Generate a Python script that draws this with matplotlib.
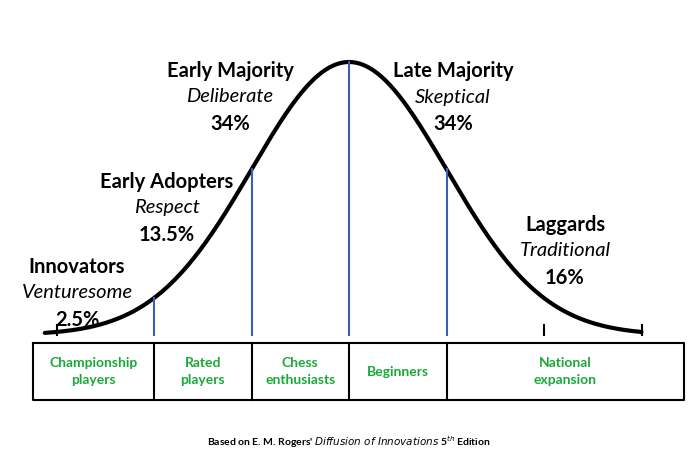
import numpy as np
import matplotlib.pyplot as plt

# groups along the curve
groups = ["Innovators", "Early Adopters", "Early Majority", "Late Majority", "Laggards"]
traits = ["Venturesome", "Respect", "Deliberate", "Skeptical", "Traditional"]
shares = ["2.5%", "13.5%", "34%", "34%", "16%"]
segments = ["Championship\nplayers", "Rated\nplayers", "Chess\nenthusiasts", "Beginners", "National\nexpansion"]
# boundaries in standard deviations from the mean
cuts = [-2, -1, 0, 1]
ticks = [-3, 2, 3]

# layout in pixels
mu, sd, base, peak = 349, 97.5, 335, 62
W, H = 700, 466

fig = plt.figure(figsize=(7, 4.66), dpi=100)
ax = fig.add_axes([0, 0, 1, 1])
ax.set_xlim(0, W)
ax.set_ylim(H, 0)
ax.axis("off")

def bell(z):
    return base - (base - peak) * np.exp(-0.5 * z ** 2)

z = np.linspace(-3.12, 3.0, 400)
ax.plot(mu + sd * z, bell(z), color="black", lw=3, solid_capstyle="round")

for c in cuts:
    ax.plot([mu + sd * c] * 2, [base, bell(c)], color="#3a5fb0", lw=1.5)
for t in ticks:
    ax.plot([mu + sd * t] * 2, [base, base - 10], color="black", lw=1.5)

# label rows
lab_pos = [(77, 267), (167, 182), (230, 71), (453, 71), (565, 225)]
for (x, y), g, tr, s in zip(lab_pos, groups, traits, shares):
    ax.text(x, y, g, ha="center", va="center", fontsize=14.5, fontweight="bold", family="Lato")
    ax.text(x, y + 26, tr, ha="center", va="center", fontsize=14.5, style="italic", family="Lato")
    ax.text(x, y + 53, s, ha="center", va="center", fontsize=14.5, fontweight="bold", family="Lato")

# boxes
edges = [33] + [mu + sd * c for c in cuts] + [684]
top, bot = 343, 400
ax.plot([33, 684, 684, 33, 33], [top, top, bot, bot, top], color="black", lw=1.5)
for e in edges[1:-1]:
    ax.plot([e, e], [top, bot], color="black", lw=1.5)
for i, s in enumerate(segments):
    ax.text((edges[i] + edges[i + 1]) / 2, (top + bot) / 2, s, ha="center", va="center",
            fontsize=10, fontweight="bold", color="#1aa83a", family="Lato", linespacing=1.5)

ax.text(349, 442, "Based on E. M. Rogers' $\\bf{\\it{Diffusion\\ of\\ Innovations}}$ 5$^{th}$ Edition",
        ha="center", va="center", fontsize=7.5, fontweight="bold", family="Lato")

fig.savefig("out.png", dpi=100)
